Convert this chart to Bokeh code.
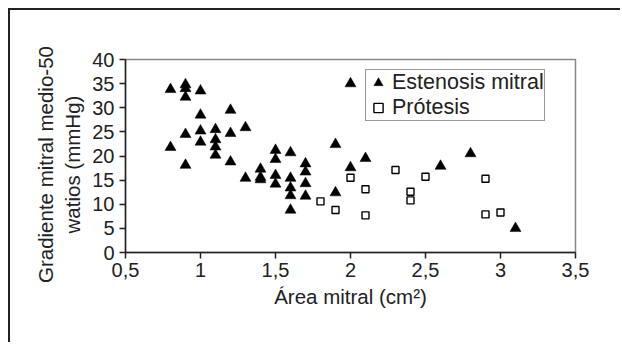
from bokeh.plotting import figure
from bokeh.models import Range1d, FixedTicker, Legend, LegendItem
from bokeh.embed import file_html
from bokeh.resources import INLINE

# Data
estenosis_x = [0.8, 0.8,
               0.9, 0.9, 0.9, 0.9, 0.9,
               1.0, 1.0, 1.0, 1.0,
               1.1, 1.1, 1.1, 1.1,
               1.2, 1.2, 1.2,
               1.3, 1.3,
               1.4, 1.4, 1.4,
               1.5, 1.5, 1.5, 1.5,
               1.6, 1.6, 1.6, 1.6, 1.6,
               1.7, 1.7, 1.7, 1.7,
               1.9, 1.9,
               2.0, 2.0,
               2.1, 2.6, 2.8, 3.1]
estenosis_y = [33.8, 21.8,
               34.8, 34.0, 32.2, 24.5, 18.1,
               33.5, 28.5, 25.2, 22.9,
               25.5, 23.4, 21.9, 20.2,
               29.5, 24.7, 18.8,
               25.9, 15.4,
               17.3, 15.6, 15.1,
               21.2, 19.3, 16.0, 14.2,
               20.7, 15.4, 13.4, 11.8, 8.8,
               18.4, 16.7, 14.3, 11.7,
               22.4, 12.4,
               35.0, 17.6,
               19.5, 17.9, 20.5, 5.0]

protesis_x = [1.8, 1.9, 2.0, 2.1, 2.1, 2.3, 2.4, 2.4, 2.5, 2.9, 2.9, 3.0]
protesis_y = [10.6, 8.8, 15.5, 13.1, 7.7, 17.1, 12.6, 10.8, 15.7, 15.3, 7.9, 8.3]

x_ticks = [0.5, 1.0, 1.5, 2.0, 2.5, 3.0, 3.5]
x_tick_labels = ["0,5", "1", "1,5", "2", "2,5", "3", "3,5"]
y_ticks = [0, 5, 10, 15, 20, 25, 30, 35, 40]

FONT = "Liberation Sans"
DARK = "#222222"
NB = "\u00a0"

p = figure(width=612, height=334, output_backend="svg", toolbar_location=None,
           x_range=Range1d(0.5, 3.5), y_range=Range1d(0, 40),
           min_border_left=115, min_border_right=47,
           min_border_top=49, min_border_bottom=92)

p.styles = {"margin-left": "8px", "margin-top": "8px",
            "border-left": "2px solid #222222", "border-top": "2px solid #222222"}

p.background_fill_color = "white"
p.border_fill_color = "white"
p.outline_line_color = "#888888"
p.outline_line_width = 1.5
p.grid.visible = False

r1 = p.scatter(estenosis_x, estenosis_y, marker="triangle", size=11,
               fill_color="black", line_color="black", line_width=0.5)
r2 = p.scatter(protesis_x, protesis_y, marker="square", size=7,
               fill_color="white", line_color="black", line_width=1.4)

for ax in (p.xaxis[0], p.yaxis[0]):
    ax.axis_line_color = DARK
    ax.axis_line_width = 1.5
    ax.major_tick_line_color = DARK
    ax.major_tick_line_width = 1.5
    ax.major_tick_out = 6
    ax.major_tick_in = 0
    ax.minor_tick_line_color = None
    ax.major_label_text_font = FONT
    ax.major_label_text_font_size = "20px"
    ax.major_label_text_color = DARK
    ax.axis_label_text_font = FONT
    ax.axis_label_text_font_size = "20.5px"
    ax.axis_label_text_font_style = "normal"
    ax.axis_label_text_color = DARK

p.xaxis.ticker = FixedTicker(ticks=x_ticks)
p.xaxis.major_label_overrides = {t: l for t, l in zip(x_ticks, x_tick_labels)}
p.xaxis.axis_label = "Área mitral (cm²)"
p.xaxis.major_label_standoff = 4
p.xaxis.axis_label_standoff = 5

p.yaxis.ticker = FixedTicker(ticks=y_ticks)
p.yaxis.axis_label = "Gradiente mitral medio-50" + NB * 3 + "\nwatios (mmHg)" + NB * 3
p.yaxis.major_label_standoff = 5
p.yaxis.axis_label_standoff = 5

legend = Legend(items=[LegendItem(label="Estenosis mitral", renderers=[r1]),
                       LegendItem(label="Prótesis", renderers=[r2])],
                location=(240, 131))
legend.label_text_font = FONT
legend.label_text_font_size = "21.5px"
legend.label_text_color = DARK
legend.glyph_width = 24
legend.glyph_height = 23
legend.label_height = 23
legend.label_standoff = 2
legend.padding = 0
legend.margin = 0
legend.spacing = 0
legend.border_line_color = "#333333"
legend.border_line_width = 1.5
legend.background_fill_color = "white"
legend.background_fill_alpha = 1
p.add_layout(legend, "center")

open("out.html", "w").write(file_html(p, INLINE))
